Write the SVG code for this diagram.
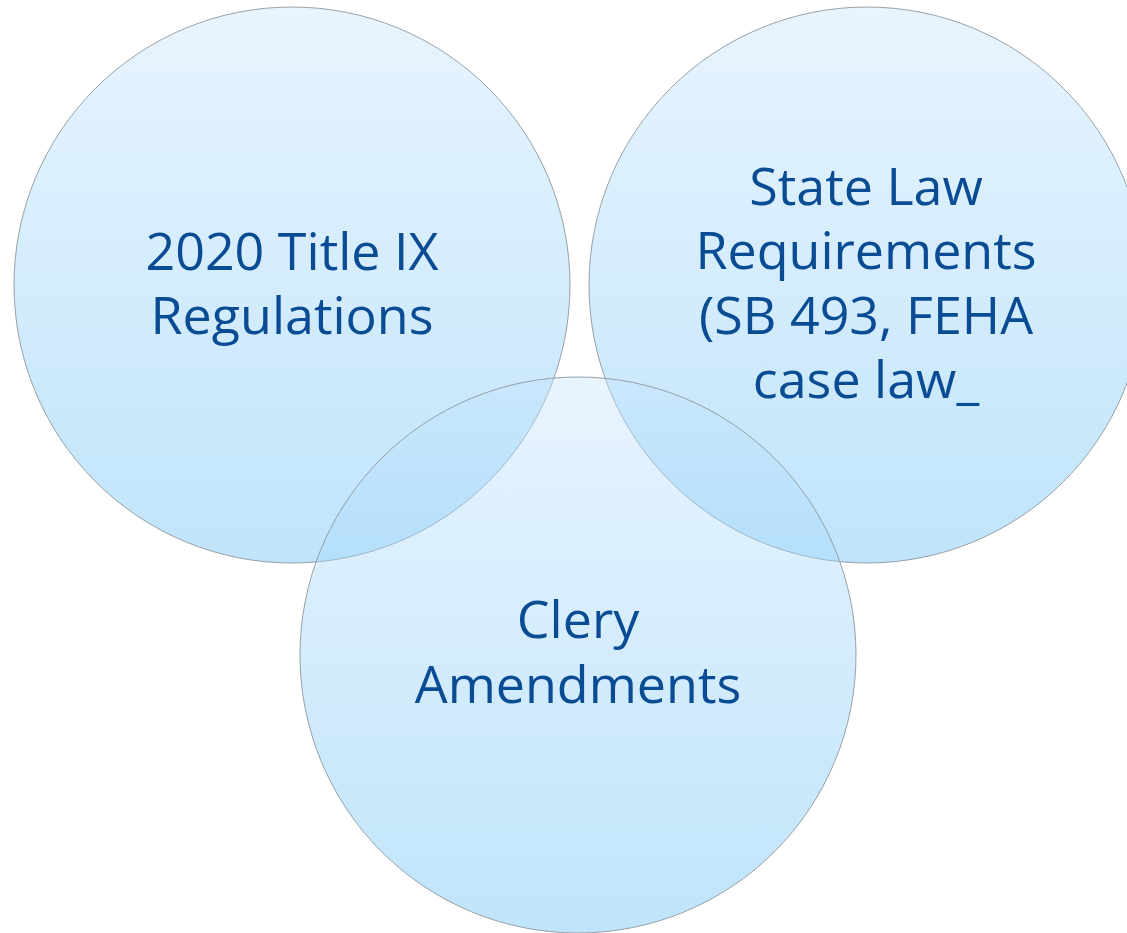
<svg xmlns="http://www.w3.org/2000/svg" width="1127" height="933" viewBox="0 0 1127 933">
  <style>
    .bubble { stroke: #8f979f; stroke-width: 1; stroke-opacity: 0.9; }
    .label { font-family: "Open Sans", "Noto Sans", "Liberation Sans", sans-serif; font-size: 52px; fill: #0a4c94; text-anchor: middle; }
  </style>
  <defs>
    <!-- vertical sky-blue wash, translucent so overlaps deepen -->
    <linearGradient id="wash" x1="0" y1="0" x2="0" y2="1">
      <stop offset="0" stop-color="#c5e4fd" stop-opacity="0.4"/>
      <stop offset="1" stop-color="#61bcf5" stop-opacity="0.4"/>
    </linearGradient>
  </defs>
  <rect width="1127" height="933" fill="#ffffff"/>

  <g id="title-ix">
    <circle class="bubble" cx="292" cy="285" r="278" fill="url(#wash)"/>
    <text class="label" x="292" y="270">2020 Title IX</text>
    <text class="label" x="292" y="334">Regulations</text>
  </g>

  <g id="state-law">
    <circle class="bubble" cx="867" cy="285" r="278" fill="url(#wash)"/>
    <text class="label" x="866" y="205">State Law</text>
    <text class="label" x="866" y="269">Requirements</text>
    <text class="label" x="866" y="334">(SB 493, FEHA</text>
    <text class="label" x="866" y="398">case law_</text>
  </g>

  <g id="clery">
    <circle class="bubble" cx="578" cy="655" r="278" fill="url(#wash)"/>
    <text class="label" x="578" y="638">Clery</text>
    <text class="label" x="578" y="703">Amendments</text>
  </g>

  <g id="connectors"></g>
</svg>
